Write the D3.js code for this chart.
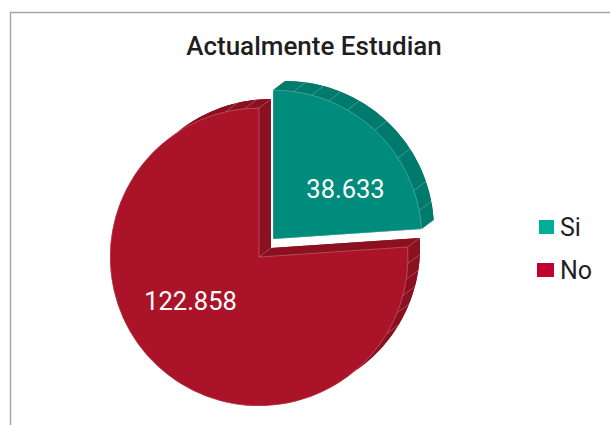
<!DOCTYPE html>
<html><head><meta charset="utf-8">
<script src="https://cdn.jsdelivr.net/npm/d3@7"></script>
<style>html,body{margin:0;padding:0;background:#fff}svg{display:block}text{font-family:Roboto,sans-serif}</style>
</head><body><svg id="c" width="610" height="425"></svg>
<script>
const categories = ["Si", "No"];
const values = [38633, 122858];
const valueLabels = ["38.633", "122.858"];
const titleText = "Actualmente Estudian";
const faceColors = ["#008C7D", "#AB1428"];
const wallColors = ["#007A6D", "#8B1020"];
const legendColors = ["#00AE98", "#C00030"];
const siFacets = [8, 15, 22, 30, 43, 57, 71, 79];
const noFacets = [92.5, 98.6, 105, 112, 121, 347, 354.5];
const facets = [siFacets, noFacets];

const svg = d3.select("#c");
const R = 149, depth = [12, -9];
const centers = [[273, 239], [259, 257]];
const labelPos = [[345.5, 189], [190.5, 301]];

svg.append("path").attr("d", "M10.5 425V12.5H610").attr("fill", "none").attr("stroke", "#a6a6a6").attr("stroke-width", 1.4);

svg.append("text").attr("x", 314).attr("y", 55).attr("text-anchor", "middle")
  .attr("font-size", 26).attr("font-weight", 500).attr("fill", "#1f1f1f").text(titleText);

const pie = d3.pie().sort(null).startAngle(0).endAngle(2 * Math.PI);
const arcs = pie(values);
const arc = d3.arc().innerRadius(0).outerRadius(R);
const rad = d => d * Math.PI / 180;
const pt = (a, dx, dy) => [R * Math.sin(a) + dx, -R * Math.cos(a) + dy];
const line = d3.line();

// draw No first (behind), then Si
[1, 0].forEach(i => {
  const a = arcs[i];
  const g = svg.append("g").attr("transform", `translate(${centers[i]})`);
  // back face
  g.append("path").attr("d", arc(a)).attr("transform", `translate(${depth})`).attr("fill", wallColors[i]);
  // outer wall
  const steps = d3.range(0, 181).map(k => a.startAngle + (a.endAngle - a.startAngle) * k / 180);
  const wall = steps.map(t => pt(t, 0, 0)).concat(steps.slice().reverse().map(t => pt(t, depth[0], depth[1])));
  g.append("path").attr("d", line(wall) + "Z").attr("fill", wallColors[i]);
  // radial walls
  [a.startAngle, a.endAngle].forEach(t => {
    g.append("path").attr("d", line([[0, 0], pt(t, 0, 0), pt(t, depth[0], depth[1]), depth]) + "Z")
      .attr("fill", wallColors[i]);
  });
  // facet lines
  g.selectAll(".f").data(facets[i].concat([a.startAngle, a.endAngle].map(t => t * 180 / Math.PI))).enter().append("path")
    .attr("d", d => line([pt(rad(d), 0, 0), pt(rad(d), depth[0], depth[1])]))
    .attr("stroke", "#fff").attr("stroke-opacity", 0.3).attr("stroke-width", 0.8);
  if (i === 1) {
    g.append("path").attr("d", line([[0, 0], depth])).attr("stroke", "#fff").attr("stroke-opacity", 0.3).attr("stroke-width", 0.8);
  }
  // front face
  g.append("path").attr("d", arc(a)).attr("fill", faceColors[i])
    .attr("stroke", "#fff").attr("stroke-opacity", 0.3).attr("stroke-width", 0.8);
});

svg.selectAll(".lab").data(valueLabels).enter().append("text")
  .attr("x", (d, i) => labelPos[i][0]).attr("y", (d, i) => labelPos[i][1])
  .attr("text-anchor", "middle").attr("dominant-baseline", "central")
  .attr("font-size", 25.5).attr("fill", "#fff").text(d => d);

const legendY = [227, 270];
const lg = svg.selectAll(".lg").data(categories).enter().append("g");
lg.append("rect").attr("x", (d, i) => i ? 537 : 539).attr("y", (d, i) => legendY[i] - 7)
  .attr("width", (d, i) => i ? 17 : 15).attr("height", 14).attr("fill", (d, i) => legendColors[i]);
lg.append("text").attr("x", 560).attr("y", (d, i) => legendY[i]).attr("dominant-baseline", "central")
  .attr("font-size", 25).attr("fill", "#1f1f1f").text(d => d);
</script></body></html>
